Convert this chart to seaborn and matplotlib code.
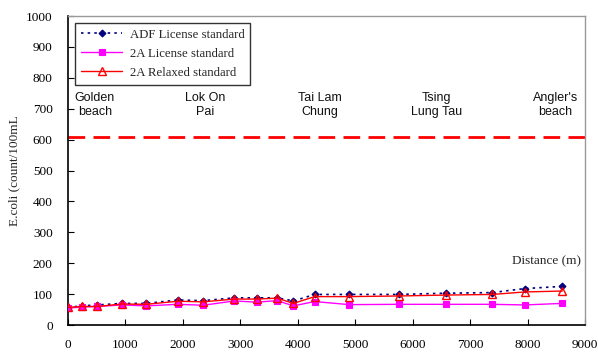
import matplotlib
matplotlib.use("Agg")
import matplotlib.pyplot as plt
import seaborn as sns
import pandas as pd

# chainage along the coast (m)
distance = [0, 240, 505, 940, 1360, 1910, 2355, 2895, 3285, 3640, 3925, 4295,
            4895, 5760, 6585, 7390, 7950, 8605]
adf_license = [57, 62, 65, 70, 70, 81, 79, 88, 88, 88, 78, 99, 99, 99, 103, 105, 118, 125]
a2_license = [55, 58, 60, 65, 62, 67, 64, 78, 74, 79, 62, 76, 66, 67, 67, 67, 65, 70]
a2_relaxed = [57, 60, 60, 68, 67, 77, 75, 84, 84, 87, 70, 92, 92, 94, 97, 99, 107, 110]

limit_value = 610
places = ["Golden\nbeach", "Lok On\nPai", "Tai Lam\nChung", "Tsing\nLung Tau", "Angler's\nbeach"]
place_x = [470, 2385, 4390, 6420, 8480]

df = pd.DataFrame({
    "distance": distance * 3,
    "ecoli": adf_license + a2_license + a2_relaxed,
    "series": ["ADF License standard"] * len(distance)
    + ["2A License standard"] * len(distance)
    + ["2A Relaxed standard"] * len(distance),
})

sns.set_style("white")
plt.rcParams["font.family"] = ["Liberation Serif", "DejaVu Serif"]

fig = plt.figure(figsize=(5.98, 3.56), dpi=100)
ax = fig.add_axes([0.1137, 0.087, 0.8645, 0.868])

styles = {
    "ADF License standard": dict(color="#000080", ls=(0, (1.5, 2.5)), marker="D", ms=3.5,
                                 mfc="#000080", mec="#000080", lw=1.2),
    "2A License standard": dict(color="#FF00FF", ls="-", marker="s", ms=4.5,
                                mfc="#FF00FF", mec="#FF00FF", lw=1.0),
    "2A Relaxed standard": dict(color="#FF0000", ls="-", marker="^", ms=6,
                                mfc="none", mec="#FF0000", lw=1.0, mew=1.0),
}
for name, st in styles.items():
    sub = df[df["series"] == name]
    sns.lineplot(data=sub, x="distance", y="ecoli", ax=ax, label=name,
                 color=st["color"], linestyle=st["ls"], marker=st["marker"],
                 markersize=st["ms"], markerfacecolor=st["mfc"],
                 markeredgecolor=st["mec"], linewidth=st["lw"],
                 markeredgewidth=st.get("mew", 0.8), zorder=3)

ax.axhline(limit_value, color="#FF0000", lw=2, ls=(0, (6, 3)), zorder=2)

for name, xp in zip(places, place_x):
    ax.text(xp, 712, name, ha="center", va="center", fontsize=9,
            family="Liberation Sans", color="#111111", linespacing=1.2)

ax.text(8930, 205, "Distance (m)", ha="right", va="center", fontsize=9.5)

ax.set_xlim(0, 9000)
ax.set_ylim(0, 1000)
ax.set_xticks(range(0, 9001, 1000))
ax.set_yticks(range(0, 1001, 100))
ax.set_xlabel("")
ax.set_ylabel("E.coli (count/100mL", fontsize=9.5, labelpad=4)
ax.tick_params(axis="both", direction="in", length=4, width=0.8, labelsize=9.5,
               left=True, bottom=True, colors="black")
ax.tick_params(axis="x", pad=10)
ax.tick_params(axis="y", pad=11)

for side in ["left", "bottom"]:
    ax.spines[side].set_color("black")
    ax.spines[side].set_linewidth(1.2)
for side in ["top", "right"]:
    ax.spines[side].set_color("#999999")
    ax.spines[side].set_linewidth(1.0)

leg = ax.legend(loc="upper left", bbox_to_anchor=(0.002, 0.998), fontsize=9.2,
                frameon=True, fancybox=False, handlelength=3.2, borderpad=0.45,
                labelspacing=0.55, handletextpad=0.6)
leg.get_frame().set_edgecolor("black")
leg.get_frame().set_linewidth(1.0)

fig.savefig("out.png", dpi=100)
